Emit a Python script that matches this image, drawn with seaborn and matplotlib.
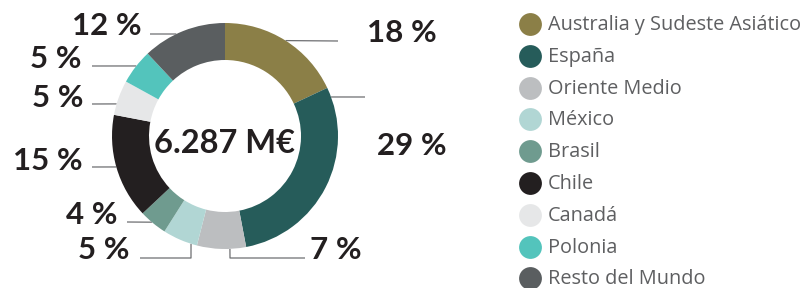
import matplotlib
matplotlib.use("Agg")
import matplotlib.pyplot as plt
import seaborn as sns
import numpy as np

# ---------------- data ----------------
regions = ["Australia y Sudeste Asiático", "España", "Oriente Medio", "México",
           "Brasil", "Chile", "Canadá", "Polonia", "Resto del Mundo"]
shares = [18, 29, 7, 5, 4, 15, 5, 5, 12]
pct_labels = [f"{v} %" for v in shares]
total_label = "6.287 M€"
colors = ["#8B7F47", "#265C5A", "#BCBEC0", "#B1D6D4", "#6F9B8F",
          "#231F20", "#E6E7E8", "#53C4BC", "#5A5E60"]

# ---------------- layout (pixels, y measured from top) ----------------
W, H = 808, 288
CX, CY, R, RING = 225, 136, 113, 37
# anchor angle (deg clockwise from top), elbow points, text x, text baseline, ha
label_layout = [
    (32.4,  [(338, 41)],            367, 42,  "left"),
    (69.8,  [(365, 97)],            377, 155, "left"),
    (177.5, [(230, 258), (305, 258)], 310, 259, "left"),
    (197.5, [(191, 258), (140, 258)], 130, 259, "right"),
    (220.3, [(127, 222)],           117, 224, "right"),
    (254.1, [(92, 167)],            83,  170, "right"),
    (286.5, [(92, 104)],            83,  107, "right"),
    (308.3, [(92, 66)],             82,  68,  "right"),
    (334.5, [(150, 34)],            142, 35,  "right"),
]
LEG_X, LEG_TX, LEG_Y0, LEG_DY = 530, 548, 24, 31.8

sns.set_theme(style="white")
plt.rcParams["font.family"] = ["Lato", "DejaVu Sans"]

fig = plt.figure(figsize=(W / 100, H / 100), dpi=100)
ax = fig.add_axes([0, 0, 1, 1])

ax.pie(shares, colors=colors, startangle=90, counterclock=False,
       center=(CX, H - CY), radius=R,
       wedgeprops=dict(width=RING, linewidth=0, zorder=2))
ax.set_xlim(0, W)
ax.set_ylim(0, H)
ax.axis("off")

lab_kw = dict(fontsize=22.5, fontweight="bold", color="#231F20", va="baseline",
              family=["Lato", "DejaVu Sans"])
for txt, (ang, pts, tx, ty, ha) in zip(pct_labels, label_layout):
    a = np.deg2rad(ang)
    x0 = CX + R * np.sin(a)
    y0 = (H - CY) + R * np.cos(a)
    xs = [x0] + [p[0] for p in pts]
    ys = [y0] + [H - p[1] for p in pts]
    ax.plot(xs, ys, color="#6D6E71", lw=0.9, zorder=1, solid_capstyle="butt")
    ax.text(tx, H - ty, txt, ha=ha, **lab_kw)

ax.text(CX, H - 153, total_label, ha="center",
        **{**lab_kw, "fontsize": 23.5})

# legend
for i, (name, c) in enumerate(zip(regions, colors)):
    y = H - (LEG_Y0 + LEG_DY * i)
    ax.scatter([LEG_X], [y], s=270, color=c, linewidths=0, zorder=3)
    ax.text(LEG_TX, y - 1, name, ha="left", va="center", fontsize=14.3,
            color="#5E5F61", family=["Open Sans", "DejaVu Sans"])

fig.savefig("out.png", dpi=100)
